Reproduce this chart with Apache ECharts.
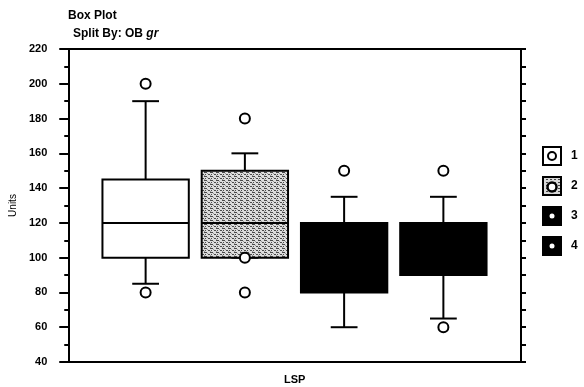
<!DOCTYPE html>
<html>
<head>
<meta charset="utf-8">
<script src="https://cdn.jsdelivr.net/npm/echarts@6/dist/echarts.min.js"></script>
<style>html,body{margin:0;padding:0;background:#fff;}#c{width:584px;height:387px;}</style>
</head>
<body>
<div id="c"></div>
<script>
// ---- data ----
const categories = ['1', '2', '3', '4'];
const lows    = [85, 100, 60, 65];
const q1s     = [100, 100, 80, 90];
const medians = [120, 120, 100, 105];
const q3s     = [145, 150, 120, 120];
const highs   = [190, 160, 135, 135];
const outliers = [[0, 200], [0, 80], [1, 180], [1, 100], [1, 80], [2, 150], [3, 150], [3, 60]];
const xCategory = ['LSP'];
const yMin = 40, yMax = 220, yStep = 20;

const FONT = 'Liberation Sans, Arial, sans-serif';

// stipple texture for group 2
function makePattern() {
  const cv = document.createElement('canvas');
  cv.width = 6; cv.height = 4;
  const ctx = cv.getContext('2d');
  ctx.fillStyle = '#dcdcdc'; ctx.fillRect(0, 0, 6, 4);
  ctx.fillStyle = '#4a4a4a';
  ctx.fillRect(0, 0, 3, 1);
  ctx.fillRect(4, 2, 2, 1);
  ctx.fillRect(1, 2, 1, 1);
  ctx.fillStyle = '#9a9a9a';
  ctx.fillRect(3, 1, 1, 1);
  ctx.fillRect(0, 3, 1, 1);
  return cv;
}
const pattern = { image: makePattern(), repeat: 'repeat' };
const fills = ['#ffffff', pattern, '#000000', '#000000'];

function svgIcon(kind) {
  let s;
  if (kind === 0) {
    s = '<svg xmlns="http://www.w3.org/2000/svg" width="24" height="20" viewBox="0 0 24 20"><rect x="1" y="1" width="18" height="18" fill="#fff" stroke="#000" stroke-width="2"/><circle cx="10" cy="10" r="4" fill="#fff" stroke="#000" stroke-width="2"/></svg>';
  } else if (kind === 1) {
    s = '<svg xmlns="http://www.w3.org/2000/svg" width="24" height="20" viewBox="0 0 24 20"><defs><pattern id="p" width="4" height="3" patternUnits="userSpaceOnUse"><rect width="4" height="3" fill="#d8d8d8"/><rect width="2" height="1" fill="#444"/></pattern></defs><rect x="1" y="1" width="18" height="18" fill="url(#p)" stroke="#000" stroke-width="2"/><circle cx="10" cy="11" r="4.5" fill="#fff" stroke="#000" stroke-width="2.5"/></svg>';
  } else {
    s = '<svg xmlns="http://www.w3.org/2000/svg" width="24" height="20" viewBox="0 0 24 20"><rect x="0" y="0" width="20" height="20" fill="#000"/><circle cx="10" cy="10" r="2.5" fill="#fff"/></svg>';
  }
  return 'image://data:image/svg+xml;charset=utf-8,' + encodeURIComponent(s);
}

function renderBox(params, api) {
  const x = api.value(0);
  const pLow = api.coord([x, api.value(1)]);
  const pQ1 = api.coord([x, api.value(2)]);
  const pMed = api.coord([x, api.value(3)]);
  const pQ3 = api.coord([x, api.value(4)]);
  const pHigh = api.coord([x, api.value(5)]);
  const band = api.size([1, 0])[0];
  const bw = band * 0.87, cw = band * 0.27;
  const cx = pQ1[0];
  const ls = { stroke: '#000', lineWidth: 2 };
  const fill = fills[params.seriesIndex];
  return {
    type: 'group',
    children: [
      { type: 'line', shape: { x1: cx, y1: pQ3[1], x2: cx, y2: pHigh[1] }, style: ls },
      { type: 'line', shape: { x1: cx - cw / 2, y1: pHigh[1], x2: cx + cw / 2, y2: pHigh[1] }, style: ls },
      { type: 'line', shape: { x1: cx, y1: pQ1[1], x2: cx, y2: pLow[1] }, style: ls },
      { type: 'line', shape: { x1: cx - cw / 2, y1: pLow[1], x2: cx + cw / 2, y2: pLow[1] }, style: ls },
      { type: 'rect', shape: { x: cx - bw / 2, y: pQ3[1], width: bw, height: pQ1[1] - pQ3[1] },
        style: { fill: fill, stroke: '#000', lineWidth: 2 } },
      { type: 'line', shape: { x1: cx - bw / 2, y1: pMed[1], x2: cx + bw / 2, y2: pMed[1] }, style: ls }
    ]
  };
}

const boxSeries = categories.map(function (name, i) {
  return {
    name: name,
    type: 'custom',
    xAxisIndex: 1,
    yAxisIndex: 2,
    renderItem: renderBox,
    encode: { x: 0, y: [1, 2, 3, 4, 5] },
    silent: true,
    data: [[i, lows[i], q1s[i], medians[i], q3s[i], highs[i]]]
  };
});

const chart = echarts.init(document.getElementById('c'), null, { renderer: 'canvas' });
chart.setOption({
  animation: false,
  backgroundColor: '#fff',
  title: [
    { text: 'Box Plot', left: 68, top: 10, padding: 0,
      textStyle: { fontFamily: FONT, fontSize: 12, fontWeight: 'bold', color: '#000' } },
    { text: 'Split By: OB {i|gr}', left: 73, top: 28, padding: 0,
      textStyle: { fontFamily: FONT, fontSize: 12, fontWeight: 'bold', color: '#000',
        rich: { i: { fontFamily: FONT, fontSize: 12, fontWeight: 'bold', fontStyle: 'italic', color: '#000' } } } }
  ],
  legend: {
    orient: 'vertical',
    left: 542,
    top: 146,
    itemWidth: 24,
    itemHeight: 20,
    itemGap: 10,
    padding: 0,
    selectedMode: false,
    textStyle: { fontFamily: FONT, fontSize: 12, fontWeight: 'bold', color: '#000' },
    data: categories.map(function (n, i) { return { name: n, icon: svgIcon(i) }; })
  },
  grid: [
    { left: 67, right: 63, top: 49, bottom: 25 },
    { left: 96, right: 91, top: 49, bottom: 25 }
  ],
  xAxis: [
    { type: 'category', gridIndex: 0, data: xCategory, position: 'bottom',
      axisLine: { lineStyle: { color: '#000', width: 2 } },
      axisTick: { alignWithLabel: true, length: 4, lineStyle: { width: 2, color: '#000' } },
      axisLabel: { margin: 12, fontFamily: FONT, fontSize: 11, fontWeight: 'bold', color: '#000' },
      splitLine: { show: false } },
    { type: 'category', gridIndex: 1, data: categories, show: false },
    { type: 'category', gridIndex: 0, data: xCategory, position: 'top',
      axisLine: { lineStyle: { color: '#000', width: 2 } },
      axisTick: { show: false }, axisLabel: { show: false }, splitLine: { show: false } }
  ],
  yAxis: [
    { type: 'value', gridIndex: 0, min: yMin, max: yMax, interval: yStep, position: 'left',
      name: 'Units', nameLocation: 'middle', nameGap: 48, nameRotate: 90,
      nameTextStyle: { fontFamily: FONT, fontSize: 10, color: '#000' },
      axisLine: { show: true, lineStyle: { color: '#000', width: 2 } },
      axisTick: { show: true, length: 9, lineStyle: { color: '#000', width: 2 } },
      minorTick: { show: true, splitNumber: 2, length: 4, lineStyle: { color: '#000', width: 2 } },
      axisLabel: { margin: 21, fontFamily: FONT, fontSize: 11, fontWeight: 'bold', color: '#000' },
      splitLine: { show: false }, minorSplitLine: { show: false } },
    { type: 'value', gridIndex: 0, min: yMin, max: yMax, interval: yStep / 2, position: 'right',
      axisLine: { show: true, lineStyle: { color: '#000', width: 2 } },
      axisTick: { show: true, length: 5, lineStyle: { color: '#000', width: 2 } },
      axisLabel: { show: false }, splitLine: { show: false } },
    { type: 'value', gridIndex: 1, min: yMin, max: yMax, show: false, splitLine: { show: false } }
  ],
  series: boxSeries.concat([
    {
      name: 'outliers',
      type: 'scatter',
      xAxisIndex: 1,
      yAxisIndex: 2,
      symbol: 'circle',
      symbolSize: 10,
      silent: true,
      z: 5,
      itemStyle: { color: '#fff', borderColor: '#000', borderWidth: 2, opacity: 1 },
      data: outliers
    }
  ])
});
</script>
</body>
</html>
